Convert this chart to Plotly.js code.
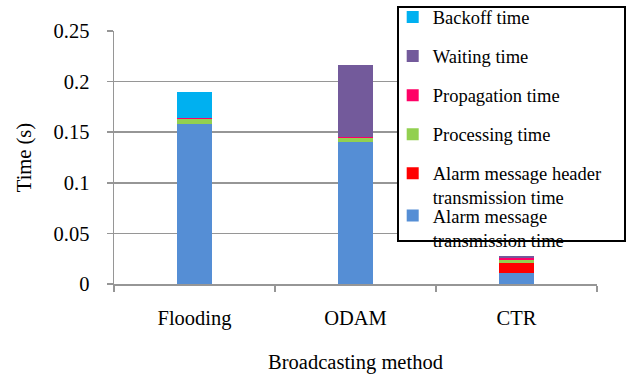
<!DOCTYPE html>
<html>
<head>
<meta charset="utf-8">
<script src="https://cdn.plot.ly/plotly-3.0.1.min.js"></script>
<style>
  html, body { margin: 0; padding: 0; background: #fff; }
  #chart { width: 628px; height: 374px; }
</style>
</head>
<body>
<div id="chart"></div>
<script>
// Delay components (seconds) for each broadcasting method
const methods = ['Flooding', 'ODAM', 'CTR'];

const alarmMessageTx = [0.1585, 0.1404, 0.0112];
const alarmHeaderTx  = [0,      0,      0.0099];
const processingTime = [0.0044, 0.0039, 0.0030];
const propagationTime = [0.0012, 0.0012, 0.0012];
const waitingTime    = [0,      0.0708, 0.0025];
const backoffTime    = [0.0254, 0,      0];

const yTicks = [0, 0.05, 0.1, 0.15, 0.2, 0.25];

const serif = "'Liberation Serif', 'DejaVu Serif', serif";

function stackTrace(name, values, color, legendId, rank) {
  return {
    type: 'bar',
    name: name,
    x: methods,
    y: values,
    marker: { color: color, line: { width: 0 } },
    legend: legendId,
    legendgroup: 'g' + rank,
    legendrank: rank,
    hoverinfo: 'name+y'
  };
}

// Stacked from the bottom up; legend lists them top-down
const traces = [
  stackTrace('Alarm message<br>transmission time', alarmMessageTx, '#558ED5', 'legend2', 6),
  stackTrace('Alarm message header<br>transmission time', alarmHeaderTx, '#FF0000', 'legend', 5),
  stackTrace('Processing time', processingTime, '#92D050', 'legend', 4),
  stackTrace('Propagation time', propagationTime, '#FF0066', 'legend', 3),
  stackTrace('Waiting time', waitingTime, '#735A9B', 'legend', 2),
  stackTrace('Backoff time', backoffTime, '#00B0F0', 'legend', 1)
];

const W = 628, H = 374;
const M = { l: 114, r: 31, t: 31, b: 90 };
const plotW = W - M.l - M.r, plotH = H - M.t - M.b;
// helpers converting pixel offsets in the figure to paper fractions
const px = v => (v - M.l) / plotW;
const py = v => (H - M.b - v) / plotH;

const legendFont = { family: serif, size: 18.5, color: '#000' };
const axisFont = { family: serif, size: 20.5, color: '#000' };

const layout = {
  width: W,
  height: H,
  margin: Object.assign({ pad: 0, autoexpand: false }, M),
  paper_bgcolor: '#ffffff',
  plot_bgcolor: '#ffffff',
  barmode: 'stack',
  bargap: 0.783,
  font: axisFont,
  xaxis: {
    type: 'category',
    showline: true,
    linecolor: '#969696',
    linewidth: 1.5,
    ticks: 'outside',
    tickson: 'boundaries',
    ticklen: 6,
    tickwidth: 1.5,
    tickcolor: '#969696',
    showgrid: false,
    zeroline: false,
    ticklabelstandoff: 15,
    tickfont: axisFont,
    title: { text: 'Broadcasting method', font: axisFont, standoff: 26 }
  },
  yaxis: {
    range: [0, 0.25],
    tickvals: yTicks,
    ticktext: yTicks.map(v => String(v)),
    showline: true,
    linecolor: '#969696',
    linewidth: 1.5,
    ticks: 'outside',
    ticklen: 6,
    tickwidth: 1.5,
    tickcolor: '#969696',
    showgrid: true,
    gridcolor: '#969696',
    gridwidth: 1.5,
    zeroline: false,
    ticklabelstandoff: 13,
    tickfont: axisFont,
    title: { text: 'Time (s)', font: axisFont, standoff: 16 }
  },
  shapes: [{
    type: 'rect',
    xref: 'paper', yref: 'paper',
    x0: px(398), x1: px(625),
    y0: py(241), y1: py(7),
    line: { color: '#000', width: 2 },
    fillcolor: '#ffffff',
    layer: 'above'
  }],
  legend: {
    x: px(392.7), xanchor: 'left',
    y: py(-1.5), yanchor: 'top',
    traceorder: 'grouped',
    tracegroupgap: 12,
    valign: 'top',
    maxheight: 374,
    bgcolor: 'rgba(0,0,0,0)',
    borderwidth: 0,
    font: legendFont
  },
  legend2: {
    x: px(392.7), xanchor: 'left',
    y: py(197), yanchor: 'top',
    valign: 'top',
    maxheight: 374,
    bgcolor: 'rgba(0,0,0,0)',
    borderwidth: 0,
    font: legendFont
  },
  showlegend: true
};

Plotly.newPlot('chart', traces, layout, { displayModeBar: false, staticPlot: true });
</script>
</body>
</html>
